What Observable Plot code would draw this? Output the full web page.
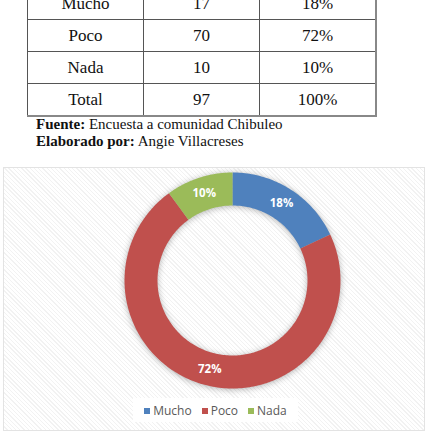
<!DOCTYPE html>
<html>
<head>
<meta charset="utf-8">
<script src="https://cdn.jsdelivr.net/npm/d3@7"></script>
<script src="https://cdn.jsdelivr.net/npm/@observablehq/plot@0.6"></script>
<style>
  html, body { margin: 0; padding: 0; background: #fff; width: 431px; height: 433px; overflow: hidden; position: relative; }
  #tbl { position: absolute; left: 27px; top: -13px; border-collapse: collapse; font-family: "Liberation Serif", "Times New Roman", serif; font-size: 17px; color: #111; }
  #tbl td { border: 1px solid #555; height: 31px; padding: 0; text-align: center; vertical-align: middle; }
  #tbl td.c0 { width: 115px; }
  #tbl td.c1 { width: 115px; }
  #tbl td.c2 { width: 115px; border-right: 2px solid #888; }
  #tbl tr.last td { border-bottom: 2px solid #888; }
  #src { position: absolute; left: 36px; top: 116px; font-family: "Liberation Serif", "Times New Roman", serif; font-size: 15px; line-height: 17px; color: #111; }
  #box { position: absolute; left: 3px; top: 167px; width: 420px; height: 262px; border: 1px solid #e3e3e3;
         background: repeating-linear-gradient(45deg, #ffffff 0px, #ffffff 2px, #f2f2f2 2px, #f2f2f2 3px); }
  #chart { position: absolute; left: 0; top: 0; }
  #legend { position: absolute; left: 129px; top: 230px; width: 165px; height: 24px; background: #fff; display: flex; align-items: center; justify-content: center; gap: 10px;
            font-family: "Open Sans", sans-serif; font-size: 12px; color: #595959; }
  #legend span.sw { display: inline-block; width: 6px; height: 6px; margin-right: 3px; vertical-align: 1px; }
  g[aria-label="line"] { filter: drop-shadow(0px 1px 3px rgba(0,0,0,0.3)); }
</style>
</head>
<body>
<table id="tbl"></table>
<div id="src"><b>Fuente:</b> Encuesta a comunidad Chibuleo<br><b>Elaborado por:</b> Angie Villacreses</div>
<div id="box"><div id="chart"></div><div id="legend"></div></div>
<script>
const categories = ["Mucho", "Poco", "Nada"];
const counts = [17, 70, 10];
const percents = [18, 72, 10];
const totalCount = 97;
const totalPercent = "100%";
const colors = ["#4F81BD", "#C0504D", "#9BBB59"];

// table
const tbl = document.getElementById("tbl");
const rows = categories.map((c, i) => [c, String(counts[i]), percents[i] + "%"]);
rows.push(["Total", String(totalCount), totalPercent]);
rows.forEach((r, i) => {
  const tr = document.createElement("tr");
  if (i === rows.length - 1) tr.className = "last";
  r.forEach((v, j) => { const td = document.createElement("td"); td.className = "c" + j; td.textContent = v; tr.appendChild(td); });
  tbl.appendChild(tr);
});

// donut geometry (unit outer radius)
const W = 420, H = 228, cx = 228, cy = 112, R = 108;
const inner = 75 / 108;
const pie = d3.pie().sort(null).value(d => d.value)(categories.map((c, i) => ({cat: c, value: percents[i]})));
const verts = [];
for (const s of pie) {
  const n = Math.max(8, Math.ceil((s.endAngle - s.startAngle) / 0.02));
  for (let k = 0; k <= n; k++) {
    const a = s.startAngle + (s.endAngle - s.startAngle) * k / n;
    verts.push({cat: s.data.cat, x: Math.sin(a), y: Math.cos(a)});
  }
  for (let k = n; k >= 0; k--) {
    const a = s.startAngle + (s.endAngle - s.startAngle) * k / n;
    verts.push({cat: s.data.cat, x: inner * Math.sin(a), y: inner * Math.cos(a)});
  }
}
const mid = (1 + inner) / 2;
const labels = pie.map(s => {
  const a = (s.startAngle + s.endAngle) / 2;
  return {cat: s.data.cat, x: mid * Math.sin(a), y: mid * Math.cos(a), text: s.data.value + "%"};
});

const plot = Plot.plot({
  width: W, height: H,
  margin: 0,
  style: {background: "transparent", overflow: "visible"},
  x: {domain: [-cx / R, (W - cx) / R], axis: null},
  y: {domain: [(cy - H) / R, cy / R], axis: null},
  color: {domain: categories, range: colors},
  marks: [
    Plot.line(verts, {x: "x", y: "y", z: "cat", fill: "cat", stroke: null}),
    Plot.text(labels, {x: "x", y: "y", text: "text", fill: "white", fontWeight: "bold", fontSize: 11.5, fontFamily: "Open Sans"})
  ]
});
document.getElementById("chart").appendChild(plot);

// legend
const lg = document.getElementById("legend");
categories.forEach((c, i) => {
  const it = document.createElement("span");
  it.innerHTML = `<span class="sw" style="background:${colors[i]}"></span>${c}`;
  lg.appendChild(it);
});
</script>
</body>
</html>
